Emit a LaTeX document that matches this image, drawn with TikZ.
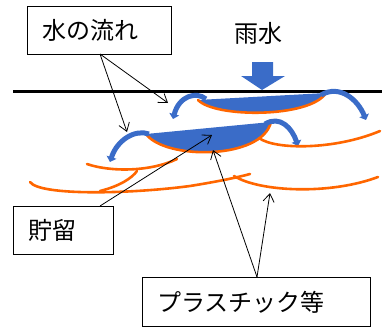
\documentclass[tikz,border=0pt]{standalone}
\usepackage{fontspec}
\newfontfamily\jpfont{Noto Sans CJK JP}
\usetikzlibrary{arrows.meta}
\definecolor{waterblue}{RGB}{58,108,200}
\definecolor{sheetorange}{RGB}{255,102,0}
\begin{document}
\begin{tikzpicture}[x=1pt,y=-1pt,
  labelbox/.style={draw, line width=0.8pt, anchor=north west, inner xsep=15pt,
    inner ysep=0pt, align=left, minimum height=48pt,
    font=\jpfont\fontsize{24}{26}\selectfont},
  plaintext/.style={inner sep=0pt, font=\jpfont\fontsize{24}{26}\selectfont},
  pointer/.style={line width=0.8pt, -{Straight Barb[length=8pt,width=11pt]}},
  flow/.style={draw=waterblue, line width=5pt, -{Triangle[length=5pt,width=10pt]}},
  sheet/.style={draw=sheetorange, line width=2.6pt, line cap=round},
  lens/.style={fill=waterblue}]
\useasboundingbox (0,0) rectangle (382,329);

% ground surface
\coordinate (groundL) at (13,91);
\coordinate (groundR) at (382,91);
\draw[line width=3pt] (groundL) -- (groundR);

% rainfall arrow
\fill[waterblue] (252,62) -- (273,62) -- (273,76) -- (285,76) -- (262,90)
  -- (241,76) -- (252,76) -- cycle;
\node[plaintext] (rain) at (258,33) {雨水};

% upper storage lens
\fill[lens] (198,100) -- (326,93) .. controls (310,118) and (215,118) .. (198,100);
\draw[sheet] (326,93) .. controls (310,118) and (215,118) .. (198,100);

% lower storage lens
\fill[lens] (146,134) -- (271,122) .. controls (262,160) and (165,160) .. (146,134);
\draw[sheet] (271,122) .. controls (262,160) and (165,160) .. (146,134);

% overflow from the lenses
\draw[flow] (206,99) .. controls (196,91) and (179,96) .. (173,119);
\draw[flow] (321,95) .. controls (340,84) and (358,100) .. (366,120);
\draw[flow] (149,134) .. controls (135,129) and (117,140) .. (110,162);
\draw[flow] (265,124) .. controls (280,115) and (292,128) .. (298,146);

% plastic sheets below the lenses
\draw[sheet] (259,138) .. controls (275,150) and (335,150) .. (380,131);
\draw[sheet] (87,164) .. controls (110,172) and (150,172) .. (177,159);
\draw[sheet] (100,191) .. controls (120,186) and (132,178) .. (137,171);
\draw[sheet] (30,182) .. controls (40,196) and (130,194) .. (190,186)
  .. controls (215,182) and (235,178) .. (250,174);
\draw[sheet] (234,176) .. controls (260,192) and (330,195) .. (378,177);

% labels
\node[labelbox, text width=114pt] (flowbox) at (27,6) {水の流れ};
\node[labelbox, text width=70pt] (storebox) at (13,206) {貯留};
\node[labelbox, text width=198pt, minimum height=49pt] (plasticbox) at (142,277) {プラスチック等};

% leader arrows
\coordinate (flowfoot) at (100,54);
\coordinate (flowtipA) at (168,103);
\coordinate (flowtipB) at (127,132);
\coordinate (storefoot) at (100,206);
\coordinate (storetip) at (212,135);
\coordinate (plasticfoot) at (257,277);
\coordinate (plastictipA) at (213,150);
\coordinate (plastictipB) at (270,193);
\draw[pointer] (flowfoot) -- (flowtipA);
\draw[pointer] (flowfoot) -- (flowtipB);
\draw[pointer] (storefoot) -- (storetip);
\draw[pointer] (plasticfoot) -- (plastictipA);
\draw[pointer] (plasticfoot) -- (plastictipB);
\end{tikzpicture}
\end{document}
